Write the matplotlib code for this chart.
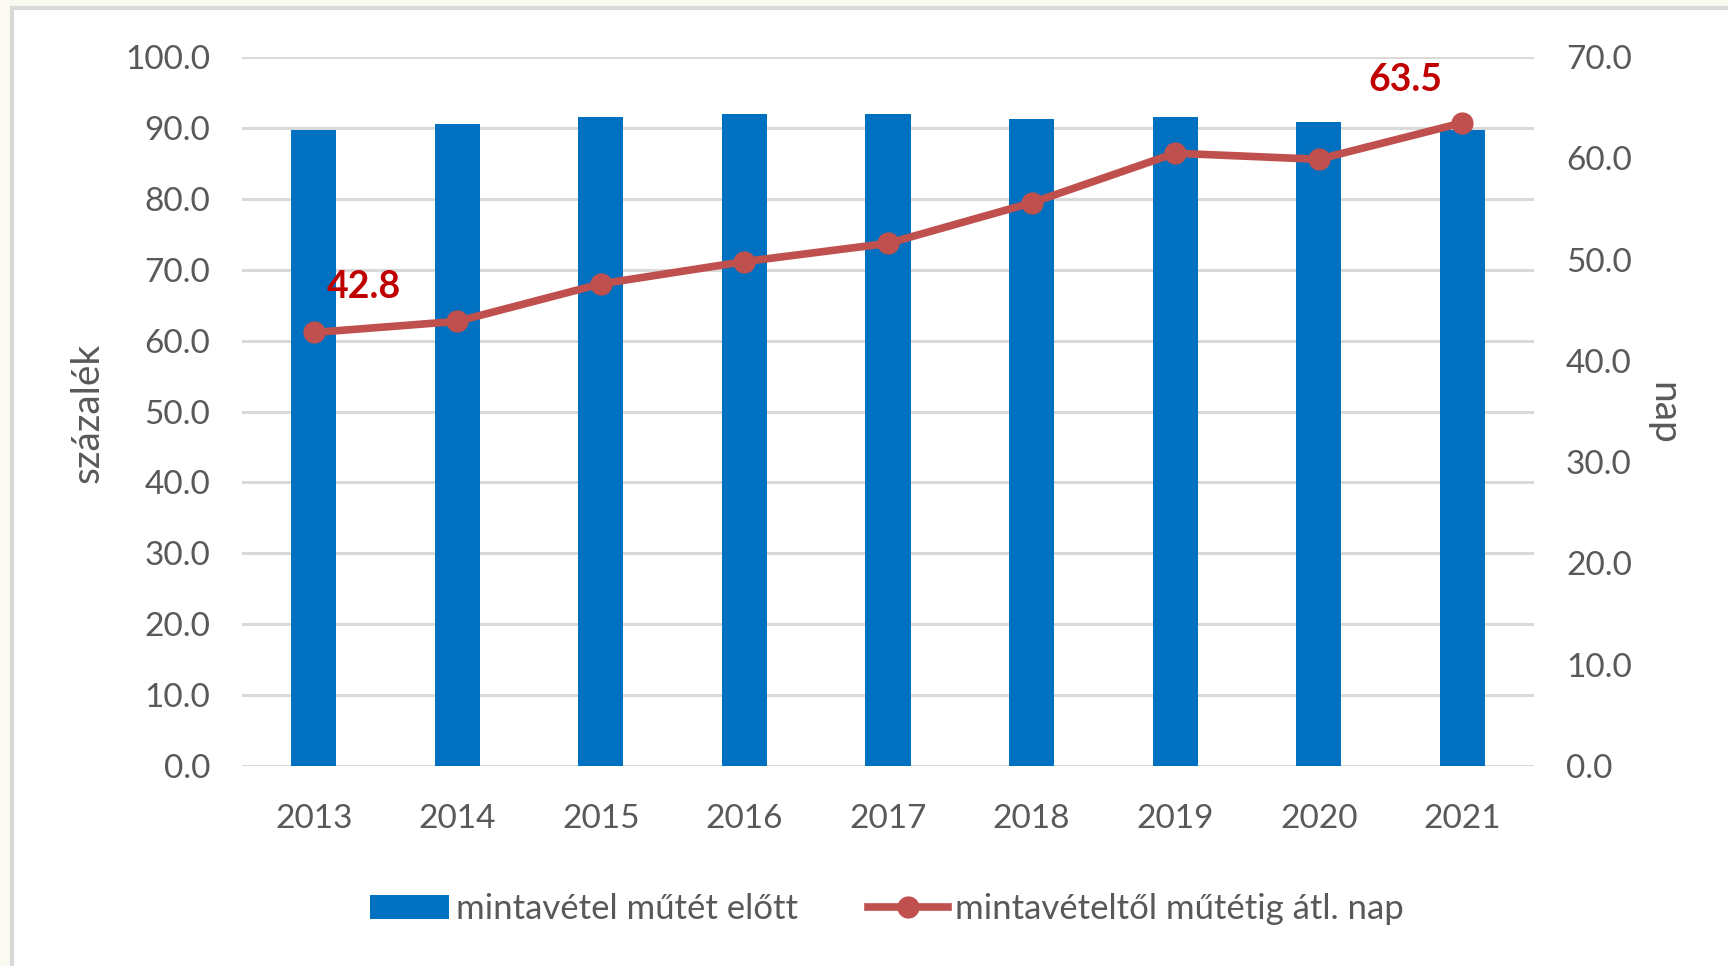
import numpy as np
import matplotlib
matplotlib.use("Agg")
import matplotlib.pyplot as plt
from matplotlib.patches import Rectangle
from matplotlib.lines import Line2D

plt.rcParams['font.family'] = ['Lato', 'DejaVu Sans']

years = ["2013", "2014", "2015", "2016", "2017", "2018", "2019", "2020", "2021"]
pct_before_surgery = [89.7, 90.6, 91.5, 91.9, 91.9, 91.3, 91.5, 90.9, 89.7]
avg_days = [42.8, 43.9, 47.6, 49.8, 51.6, 55.6, 60.5, 59.9, 63.5]
bar_label = "mintavétel műtét előtt"
line_label = "mintavételtől műtétig átl. nap"

BAR_COLOR = "#0070C0"
LINE_COLOR = "#C0504D"
LABEL_COLOR = "#C00000"
TEXT_COLOR = "#595959"
GRID_COLOR = "#D9D9D9"

fig = plt.figure(figsize=(17.28, 9.66), dpi=100, facecolor="#FAFAF3")
# white chart area with grey frame
fig.patches.append(Rectangle((12 / 1728, -0.01), 1.0, (966 - 8) / 966 + 0.01,
                             transform=fig.transFigure, facecolor="white",
                             edgecolor=GRID_COLOR, linewidth=3, zorder=-10))

ax = fig.add_axes([242 / 1728, 1 - 766 / 966, (1534 - 242) / 1728, (766 - 57) / 966])
ax.set_facecolor("none")
x = np.arange(len(years))
ax.bar(x, pct_before_surgery, width=0.315, color=BAR_COLOR, zorder=3)
ax.set_xlim(-0.5, len(years) - 0.5)
ax.set_ylim(0, 100)
ax.set_yticks(np.arange(0, 101, 10))
ax.set_yticklabels([f"{v:.1f}" for v in np.arange(0, 101, 10)])
ax.set_xticks(x)
ax.set_xticklabels(years)
ax.grid(axis="y", color=GRID_COLOR, linewidth=2.2, zorder=0)
ax.tick_params(axis="y", length=0, pad=23, labelsize=24, labelcolor=TEXT_COLOR)
ax.tick_params(axis="x", length=0, pad=27, labelsize=24, labelcolor=TEXT_COLOR)
for s in ax.spines.values():
    s.set_visible(False)

ax2 = ax.twinx()
ax2.plot(x, avg_days, color=LINE_COLOR, linewidth=5.5, marker="o", markersize=15, zorder=4)
ax2.set_ylim(0, 70)
ax2.set_yticks(np.arange(0, 71, 10))
ax2.set_yticklabels([f"{v:.1f}" for v in np.arange(0, 71, 10)])
ax2.tick_params(axis="y", length=0, pad=23, labelsize=24, labelcolor=TEXT_COLOR)
for s in ax2.spines.values():
    s.set_visible(False)

ax2.annotate(f"{avg_days[0]:.1f}", (x[0], avg_days[0]), xytext=(36, 33), textcoords="offset points",
             ha="center", va="center", fontsize=27, fontweight="bold", color=LABEL_COLOR)
ax2.annotate(f"{avg_days[-1]:.1f}", (x[-1], avg_days[-1]), xytext=(-41, 31), textcoords="offset points",
             ha="center", va="center", fontsize=27, fontweight="bold", color=LABEL_COLOR)

fig.text(88 / 1728, 1 - 413 / 966, "százalék", rotation=90, ha="center", va="center",
         fontsize=28, color=TEXT_COLOR)
fig.text(1663 / 1728, 1 - 413 / 966, "nap", rotation=270, ha="center", va="center",
         fontsize=28, color=TEXT_COLOR)

handles = [Rectangle((0, 0), 1, 1, facecolor=BAR_COLOR),
           Line2D([], [], color=LINE_COLOR, linewidth=5.5, marker="o", markersize=15)]
fig.legend(handles, [bar_label, line_label], loc="center", bbox_to_anchor=(0.513, 1 - 909 / 966),
           ncol=2, frameon=False, fontsize=25, handlelength=2.3, handletextpad=0.2,
           columnspacing=2.0, labelcolor=TEXT_COLOR)

fig.savefig("out.png", dpi=100, facecolor=fig.get_facecolor())
